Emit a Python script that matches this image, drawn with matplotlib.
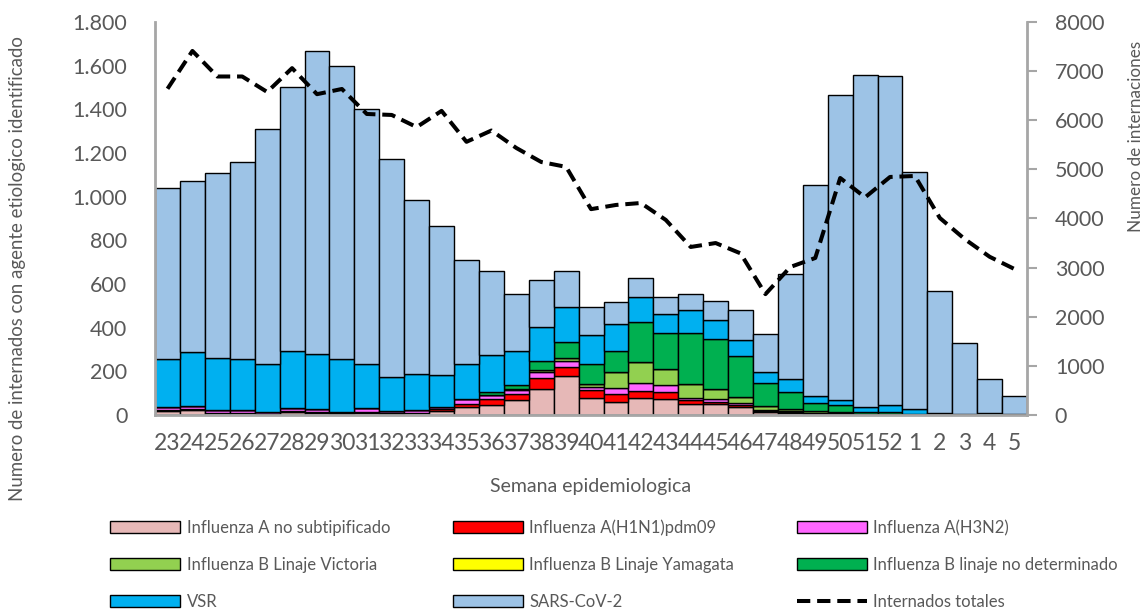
import matplotlib.pyplot as plt
from matplotlib.ticker import FuncFormatter, MultipleLocator
from matplotlib.patches import Patch
from matplotlib.lines import Line2D

plt.rcParams.update({"font.family": ["Lato", "DejaVu Sans"]})

weeks = [str(w) for w in list(range(23, 53)) + list(range(1, 6))]

flu_a_nosub = [20, 23, 8, 8, 5, 15, 11, 5, 11, 6, 8, 20, 35, 46, 69, 118, 179, 76, 58, 76,
               72, 50, 50, 35, 12, 10, 5, 5, 3, 2, 2, 2, 1, 1, 1]
flu_h1n1 = [3, 3, 2, 2, 1, 3, 3, 2, 2, 5, 3, 8, 14, 27, 26, 53, 43, 38, 38, 35,
            32, 18, 11, 9, 5, 5, 3, 3, 1, 1, 0, 0, 0, 0, 0]
flu_h3n2 = [15, 15, 15, 12, 8, 12, 12, 8, 17, 8, 12, 8, 23, 18, 20, 24, 27, 12, 26, 34,
            34, 12, 12, 9, 4, 4, 3, 2, 1, 1, 1, 1, 0, 0, 0]
flu_b_victoria = [0, 0, 0, 0, 0, 0, 0, 0, 0, 0, 0, 0, 0, 0, 3, 11, 11, 15, 73, 99,
                  73, 60, 44, 31, 21, 8, 5, 3, 1, 1, 0, 0, 0, 0, 0]
flu_b_yamagata = [0] * 35
flu_b_nd = [0, 0, 0, 0, 0, 0, 0, 0, 0, 0, 0, 0, 0, 15, 18, 43, 76, 92, 96, 180,
            163, 237, 229, 186, 105, 78, 38, 31, 8, 9, 3, 2, 1, 0, 0]
vsr = [220, 247, 237, 235, 220, 261, 255, 241, 205, 156, 165, 148, 160, 170, 157, 156, 157, 133, 125, 118,
       87, 104, 89, 73, 50, 60, 35, 23, 23, 32, 21, 6, 4, 8, 3]
sars_cov2 = [783, 783, 844, 902, 1075, 1209, 1386, 1342, 1168, 999, 797, 682, 478, 383, 260, 214, 168, 127, 102, 84,
             81, 73, 89, 137, 174, 481, 965, 1397, 1521, 1506, 1087, 557, 324, 157, 84]
internados_totales = [6640, 7410, 6890, 6890, 6575, 7060, 6530, 6636, 6127, 6107, 5860, 6190, 5560, 5790, 5435,
                      5150, 5050, 4190, 4275, 4315, 3970, 3420, 3500, 3290, 2460, 3013, 3196, 4824, 4430, 4845,
                      4865, 4010, 3580, 3220, 2970]

series = [
    ("Influenza A no subtipificado", flu_a_nosub, "#E6B8B7"),
    ("Influenza A(H1N1)pdm09", flu_h1n1, "#FF0000"),
    ("Influenza A(H3N2)", flu_h3n2, "#FF66FF"),
    ("Influenza B Linaje Victoria", flu_b_victoria, "#92D050"),
    ("Influenza B Linaje Yamagata", flu_b_yamagata, "#FFFF00"),
    ("Influenza B linaje no determinado", flu_b_nd, "#00B050"),
    ("VSR", vsr, "#00B0F0"),
    ("SARS-CoV-2", sars_cov2, "#9DC3E6"),
]

GRAY = "#A6A6A6"
TEXT = "#595959"
DASH = (0, (3.3, 1.7))

fig = plt.figure(figsize=(11.46, 6.10), dpi=100)
ax = fig.add_axes([0.1353, 0.3197, 0.7609, 0.6443])
ax2 = ax.twinx()

x = list(range(len(weeks)))
bottom = [0] * len(weeks)
for label, vals, color in series:
    ax.bar(x, vals, width=1.0, bottom=bottom, color=color, edgecolor="black",
           linewidth=1.0, label=label, zorder=2)
    bottom = [b + v for b, v in zip(bottom, vals)]

ax2.plot(x, internados_totales, color="black", linewidth=2.9,
         linestyle=DASH, label="Internados totales", zorder=3)

ax.set_xlim(-0.5, len(weeks) - 0.5)
ax.set_ylim(0, 1800)
ax2.set_ylim(0, 8000)
ax.yaxis.set_major_locator(MultipleLocator(200))
ax2.yaxis.set_major_locator(MultipleLocator(1000))
ax.yaxis.set_major_formatter(FuncFormatter(lambda v, p: f"{int(v):,}".replace(",", ".")))

ax.set_xticks(x)
ax.set_xticklabels(weeks)
ax.tick_params(axis="x", length=0, pad=13, labelsize=16.5, labelcolor=TEXT)
ax.tick_params(axis="y", length=0, pad=20, labelsize=15.5, labelcolor=TEXT)
ax2.tick_params(axis="y", length=7, width=1.5, color=GRAY, pad=13, labelsize=15.5, labelcolor=TEXT)

for a in (ax, ax2):
    a.spines["top"].set_visible(False)
    for s in ("left", "right", "bottom"):
        a.spines[s].set_color(GRAY)
        a.spines[s].set_linewidth(2)
ax.spines["right"].set_visible(False)
ax2.spines["left"].set_visible(False)
ax2.spines["bottom"].set_visible(False)

ax.set_xlabel("Semana epidemiologica", fontsize=14, color=TEXT, labelpad=17)
fig.text(0.015, 0.56, "Numero de internados con agente etiologico identificado",
         rotation=90, ha="center", va="center", fontsize=13.4, color=TEXT)
fig.text(0.991, 0.777, "Numero de internaciones", rotation=90, ha="center",
         va="center", fontsize=12.3, color=TEXT)

handles = [Patch(facecolor=c, edgecolor="black", linewidth=1.0) for _, _, c in series]
handles.append(Line2D([0], [0], color="black", linewidth=2.9, linestyle=DASH))
labels = [s[0] for s in series] + ["Internados totales"]
# order row-wise for three columns
order = [0, 3, 6, 1, 4, 7, 2, 5, 8]
fig.legend([handles[i] for i in order], [labels[i] for i in order], ncol=3,
           loc="upper left", bbox_to_anchor=(0.083, 0.173), frameon=False,
           fontsize=12, handlelength=4.2, handleheight=0.72, handletextpad=0.4,
           columnspacing=3.75, labelspacing=1.25, labelcolor=TEXT)

fig.savefig("out.png", dpi=100)
